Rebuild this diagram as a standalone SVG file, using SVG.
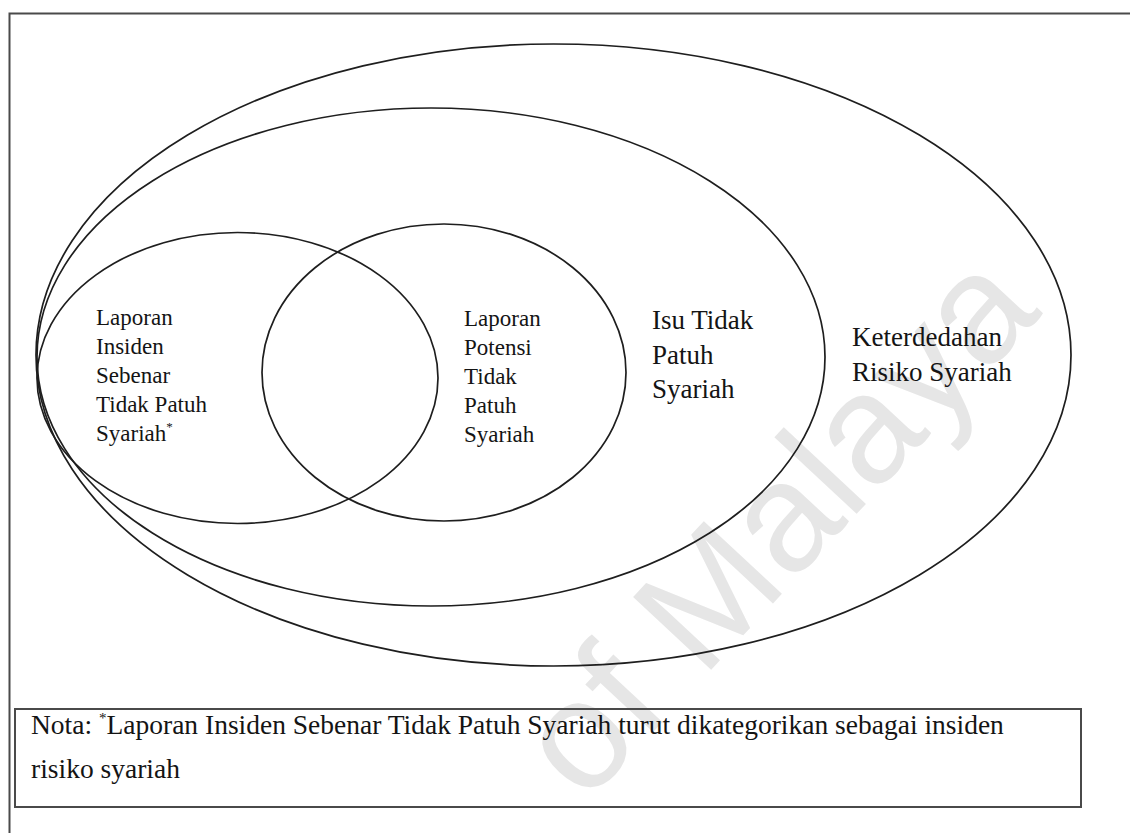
<svg xmlns="http://www.w3.org/2000/svg" width="1130" height="833" viewBox="0 0 1130 833">
  <defs>
    <style>
      .ring { fill: none; stroke: #1e1e1e; stroke-width: 1.7; }
      .frame { fill: none; stroke: #4a4a4a; stroke-width: 2; }
      .t { font-family: "Liberation Serif", "Times New Roman", serif; fill: #141414; }
      .s { font-size: 23px; }
      .m { font-size: 27px; }
      .n { font-size: 27.5px; }
      .wm { font-family: "Liberation Sans", Arial, sans-serif; fill: #e6e6e6; font-size: 155px; }
    </style>
  </defs>
  <rect x="0" y="0" width="1130" height="833" fill="#ffffff"/>
  <!-- watermark -->
  <text class="wm" transform="translate(585,805) rotate(-47)">of Malaya</text>

  <rect class="frame" x="9.5" y="13.5" width="1140" height="840"/>

  <g id="keterdedahan">
    <ellipse class="ring" cx="553.5" cy="355" rx="517.5" ry="311"/>
    <text class="t m" x="852" y="346">Keterdedahan</text>
    <text class="t m" x="852" y="381">Risiko Syariah</text>
  </g>
  <g id="isu">
    <ellipse class="ring" cx="431" cy="357" rx="394" ry="249"/>
    <text class="t m" x="652" y="329">Isu Tidak</text>
    <text class="t m" x="652" y="363.5">Patuh</text>
    <text class="t m" x="652" y="398">Syariah</text>
  </g>
  <g id="insiden">
    <ellipse class="ring" cx="237.5" cy="378" rx="200.5" ry="145.5"/>
    <text class="t s" x="96" y="325">Laporan</text>
    <text class="t s" x="96" y="354">Insiden</text>
    <text class="t s" x="96" y="383">Sebenar</text>
    <text class="t s" x="96" y="412">Tidak Patuh</text>
    <text class="t s" x="96" y="440.5">Syariah<tspan font-size="13" dy="-10">*</tspan></text>
  </g>
  <g id="potensi">
    <ellipse class="ring" cx="444" cy="372.5" rx="182" ry="148.5"/>
    <text class="t s" x="464" y="326">Laporan</text>
    <text class="t s" x="464" y="355">Potensi</text>
    <text class="t s" x="464" y="384">Tidak</text>
    <text class="t s" x="464" y="413">Patuh</text>
    <text class="t s" x="464" y="442">Syariah</text>
  </g>
  <g id="connectors"></g>
  <g id="nota">
    <rect class="frame" x="15" y="709" width="1066" height="98"/>
    <text class="t n" x="31" y="734">Nota: <tspan font-size="15" dy="-11">*</tspan><tspan dy="11">Laporan Insiden Sebenar Tidak Patuh Syariah turut dikategorikan sebagai insiden</tspan></text>
    <text class="t n" x="31" y="778">risiko syariah</text>
  </g>
</svg>
